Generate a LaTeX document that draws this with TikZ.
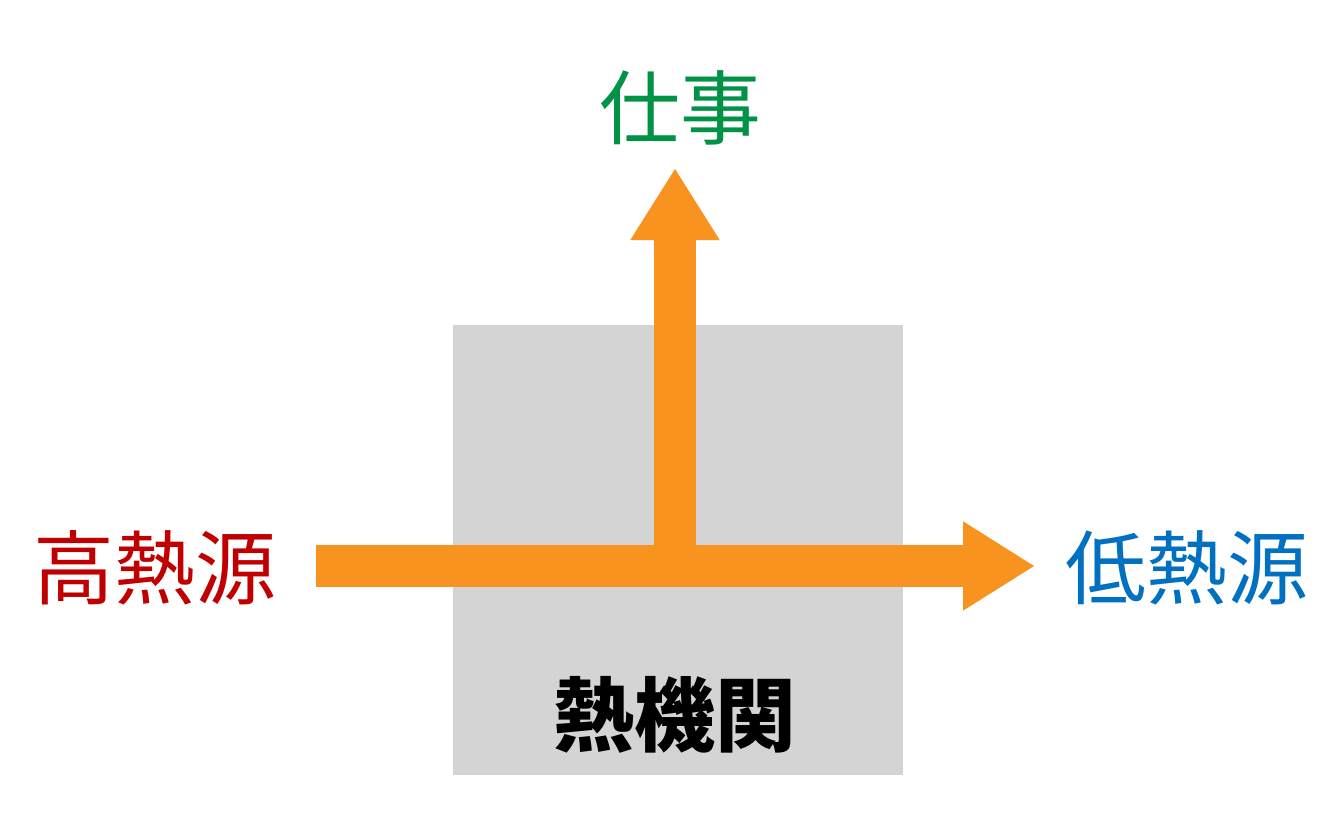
\documentclass[tikz,border=0pt]{standalone}
\usepackage{fontspec}
\newfontfamily\cjk{Noto Sans CJK JP}
\usetikzlibrary{arrows.meta}
\definecolor{flow}{HTML}{F7931E}
\definecolor{hot}{HTML}{C00000}
\definecolor{cold}{HTML}{0070C0}
\definecolor{work}{HTML}{009245}
\tikzset{
  label/.style={font=\cjk\fontsize{23}{27}\selectfont, inner sep=0pt},
  flowline/.style={draw=flow, line width=4.2mm, -{Triangle[length=7.2mm, width=8.4mm]}}
}
\begin{document}
\begin{tikzpicture}[x=0.1mm, y=-0.1mm]
\useasboundingbox (0,0) rectangle (1333,833);
% Place nodes
\node [fill=black!17, minimum size=45mm, inner sep=0pt] (engine) at (678,550) {};
\node [label, font=\cjk\bfseries\fontsize{23}{27}\selectfont] (engineText) at (675,715) {熱機関};
\node [label, text=hot] (hotSrc) at (155,568) {高熱源};
\node [label, text=cold] (coldSrc) at (1187,568) {低熱源};
\node [label, text=work] (workOut) at (680,108) {仕事};
\coordinate (inStart) at (316,566);
\coordinate (outEnd) at (1035,566);
\coordinate (split) at (675,566);
\coordinate (upEnd) at (675,168);
% Draw arrows
\draw [flowline] (inStart) -- (outEnd);
\draw [flowline] (split) -- (upEnd);
\end{tikzpicture}
\end{document}
